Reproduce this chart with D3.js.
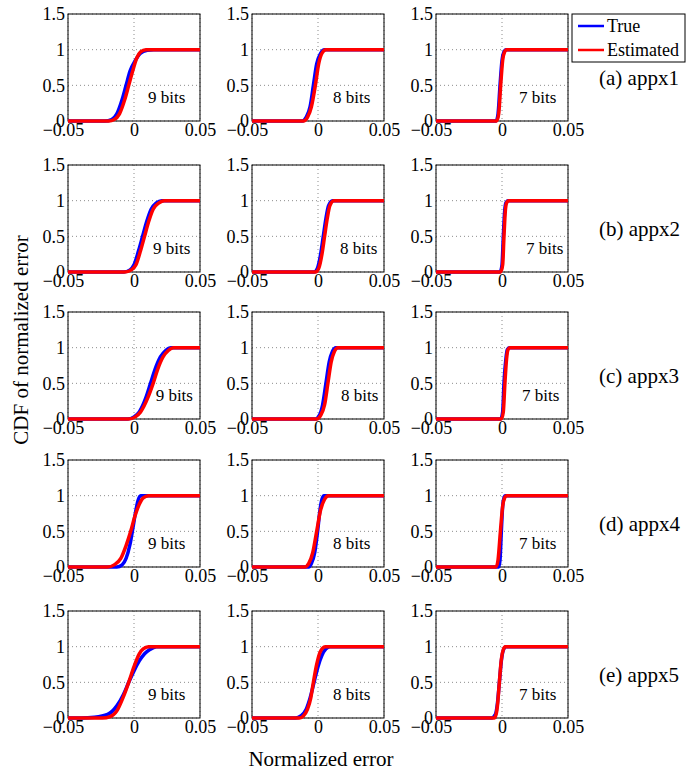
<!DOCTYPE html>
<meta charset="utf-8">
<style>
body { margin: 0; background: #fff; }
svg, svg text { font-family: "Liberation Serif", "Times New Roman", Times, "DejaVu Serif", serif; }
text { fill: #000; }
.grid line { stroke: #8c8c8c; stroke-width: 1; stroke-dasharray: 1,3; }
.box { fill: none; stroke: #000; stroke-width: 1; }
.true { fill: none; stroke: #0000ff; stroke-width: 3.5; }
.est { fill: none; stroke: #ff0000; stroke-width: 3.5; }
</style>
<svg width="696" height="772"></svg>
<script src="https://d3js.org/d3.v7.min.js"></script>
<script>

// panel rows / columns
var rowNames = ["(a) appx1", "(b) appx2", "(c) appx3", "(d) appx4", "(e) appx5"],
    bitNames = ["9 bits", "8 bits", "7 bits"],
    xTicks = [-0.05, 0, 0.05],
    yTicks = [0, 0.5, 1, 1.5];

// CDF curves: [normalized error, CDF], one list per column
var true_appx1 = [
  [[-0.05,0],[-0.022,0],[-0.017,0.02],[-0.013,0.1],[-0.009,0.3],[-0.006,0.5],[-0.003,0.7],[0.001,0.85],[0.005,0.95],[0.01,0.99],[0.015,1],[0.05,1]],
  [[-0.05,0],[-0.012,0],[-0.009,0.05],[-0.006,0.2],[-0.0035,0.5],[-0.001,0.8],[0.002,0.95],[0.005,1],[0.05,1]],
  [[-0.05,0],[-0.0045,0],[-0.003,0.1],[-0.0015,0.5],[0,0.85],[0.0015,0.97],[0.003,1],[0.05,1]]
];
var est_appx1 = [
  [[-0.05,0],[-0.019,0],[-0.015,0.02],[-0.011,0.1],[-0.007,0.3],[-0.004,0.5],[-0.001,0.7],[0.002,0.88],[0.005,0.97],[0.009,1],[0.05,1]],
  [[-0.05,0],[-0.011,0],[-0.008,0.05],[-0.005,0.2],[-0.002,0.5],[0.0005,0.8],[0.003,0.95],[0.006,1],[0.05,1]],
  [[-0.05,0],[-0.004,0],[-0.0025,0.1],[-0.001,0.5],[0.0005,0.85],[0.002,0.97],[0.0035,1],[0.05,1]]
];
var true_appx2 = [
  [[-0.05,0],[-0.008,0],[-0.003,0.03],[0,0.1],[0.0035,0.3],[0.0065,0.5],[0.0095,0.7],[0.013,0.88],[0.017,0.97],[0.021,1],[0.05,1]],
  [[-0.05,0],[-0.003,0],[-0.0005,0.05],[0.002,0.25],[0.004,0.5],[0.006,0.75],[0.008,0.93],[0.011,1],[0.05,1]],
  [[-0.05,0],[-0.0015,0],[0,0.1],[0.001,0.5],[0.002,0.85],[0.003,0.97],[0.0045,1],[0.05,1]]
];
var est_appx2 = [
  [[-0.05,0],[-0.007,0],[-0.002,0.03],[0.0015,0.1],[0.005,0.3],[0.008,0.5],[0.011,0.7],[0.0145,0.88],[0.019,0.97],[0.023,1],[0.05,1]],
  [[-0.05,0],[-0.002,0],[0.0005,0.05],[0.003,0.25],[0.005,0.5],[0.007,0.75],[0.009,0.93],[0.012,1],[0.05,1]],
  [[-0.05,0],[-0.001,0],[0.0005,0.1],[0.0015,0.5],[0.0025,0.85],[0.0035,0.97],[0.005,1],[0.05,1]]
];
var true_appx3 = [
  [[-0.05,0],[-0.005,0],[0,0.03],[0.004,0.1],[0.009,0.3],[0.0125,0.5],[0.016,0.7],[0.02,0.87],[0.024,0.96],[0.028,1],[0.05,1]],
  [[-0.05,0],[-0.002,0],[0.001,0.05],[0.0035,0.2],[0.006,0.5],[0.0085,0.8],[0.011,0.95],[0.0135,1],[0.05,1]],
  [[-0.05,0],[-0.001,0],[0.0005,0.1],[0.0015,0.5],[0.003,0.85],[0.004,0.97],[0.0055,1],[0.05,1]]
];
var est_appx3 = [
  [[-0.05,0],[-0.004,0],[0.001,0.03],[0.005,0.1],[0.0105,0.3],[0.0145,0.5],[0.018,0.7],[0.022,0.87],[0.026,0.96],[0.03,1],[0.05,1]],
  [[-0.05,0],[-0.001,0],[0.002,0.05],[0.005,0.2],[0.0075,0.5],[0.01,0.8],[0.0125,0.95],[0.015,1],[0.05,1]],
  [[-0.05,0],[-0.0005,0],[0.001,0.1],[0.0022,0.5],[0.0035,0.85],[0.0045,0.97],[0.006,1],[0.05,1]]
];
var true_appx4 = [
  [[-0.05,0],[-0.013,0],[-0.009,0.03],[-0.006,0.12],[-0.003,0.32],[-0.0008,0.55],[0.001,0.75],[0.003,0.93],[0.005,1],[0.05,1]],
  [[-0.05,0],[-0.007,0],[-0.005,0.05],[-0.0025,0.2],[-0.0003,0.5],[0.0015,0.8],[0.003,0.95],[0.0045,1],[0.05,1]],
  [[-0.05,0],[-0.0025,0],[-0.0015,0.1],[-0.0005,0.5],[0.0005,0.85],[0.0015,0.97],[0.0025,1],[0.05,1]]
];
var est_appx4 = [
  [[-0.05,0],[-0.02,0],[-0.015,0.03],[-0.01,0.12],[-0.006,0.3],[-0.0025,0.5],[0.0005,0.7],[0.004,0.88],[0.007,0.97],[0.011,1],[0.05,1]],
  [[-0.05,0],[-0.01,0],[-0.007,0.05],[-0.004,0.2],[-0.001,0.5],[0.002,0.8],[0.005,0.95],[0.008,1],[0.05,1]],
  [[-0.05,0],[-0.0045,0],[-0.003,0.1],[-0.0012,0.5],[0.0005,0.85],[0.002,0.97],[0.0035,1],[0.05,1]]
];
var true_appx5 = [
  [[-0.05,0],[-0.04,0],[-0.03,0.01],[-0.02,0.05],[-0.013,0.17],[-0.008,0.33],[-0.004,0.5],[0,0.66],[0.004,0.8],[0.008,0.9],[0.012,0.96],[0.017,1],[0.05,1]],
  [[-0.05,0],[-0.017,0],[-0.013,0.03],[-0.009,0.12],[-0.006,0.28],[-0.003,0.5],[0,0.72],[0.003,0.88],[0.006,0.97],[0.009,1],[0.05,1]],
  [[-0.05,0],[-0.008,0],[-0.005,0.05],[-0.0035,0.2],[-0.002,0.5],[-0.0005,0.8],[0.001,0.95],[0.003,1],[0.05,1]]
];
var est_appx5 = [
  [[-0.05,0],[-0.024,0],[-0.018,0.02],[-0.013,0.1],[-0.008,0.3],[-0.004,0.5],[0,0.72],[0.004,0.9],[0.007,0.97],[0.011,1],[0.05,1]],
  [[-0.05,0],[-0.014,0],[-0.011,0.03],[-0.008,0.12],[-0.0055,0.28],[-0.0035,0.5],[-0.001,0.75],[0.0015,0.92],[0.0035,0.98],[0.0055,1],[0.05,1]],
  [[-0.05,0],[-0.006,0],[-0.0045,0.05],[-0.0033,0.2],[-0.002,0.5],[-0.0005,0.82],[0.001,0.96],[0.0025,1],[0.05,1]]
];

var trueRows = [true_appx1, true_appx2, true_appx3, true_appx4, true_appx5],
    estRows = [est_appx1, est_appx2, est_appx3, est_appx4, est_appx5];

// layout
var svg = d3.select("svg"),
    W = 132, H = 107,
    colLeft = [68, 252, 436],
    rowTop = [14, 165, 312, 460, 611],
    bitsX = [[0.0106, 0.0114, 0.0129], [0.0144, 0.0167, 0.0182], [0.0164, 0.0174, 0.0152],
             [0.0106, 0.0114, 0.0129], [0.0106, 0.0114, 0.0129]];

var x = d3.scaleLinear().domain([-0.05, 0.05]).range([0, W]),
    y = d3.scaleLinear().domain([0, 1.5]).range([H, 0]);

var line = d3.line()
    .x(function(d) { return x(d[0]); })
    .y(function(d) { return y(d[1]); })
    .curve(d3.curveMonotoneX);

rowNames.forEach(function(name, r) {
  bitNames.forEach(function(bits, c) {
    var g = svg.append("g")
        .attr("transform", "translate(" + colLeft[c] + "," + rowTop[r] + ")");

    // dotted grid
    var grid = g.append("g").attr("class", "grid");
    grid.selectAll(".gx").data(xTicks).enter().append("line")
        .attr("x1", function(d) { return x(d); }).attr("x2", function(d) { return x(d); })
        .attr("y1", 0).attr("y2", H);
    grid.selectAll(".gy").data(yTicks).enter().append("line")
        .attr("x1", 0).attr("x2", W)
        .attr("y1", function(d) { return y(d); }).attr("y2", function(d) { return y(d); });

    g.append("rect").attr("class", "box").attr("width", W).attr("height", H);

    var ax = g.append("g")
        .attr("transform", "translate(0," + H + ")")
        .call(d3.axisBottom(x).tickValues(xTicks).tickSize(0).tickPadding(2).tickFormat(d3.format("")));
    ax.selectAll("text").attr("dx", function(d) { return d < 0 ? "-0.28em" : null; });

    var ay = g.append("g")
        .call(d3.axisLeft(y).tickValues(yTicks).tickSize(0).tickPadding(3).tickFormat(d3.format("")));

    [ax, ay].forEach(function(a) {
      a.attr("font-family", null).attr("font-size", 18);
      a.select(".domain").remove();
    });

    g.append("path").attr("class", "true").attr("d", line(trueRows[r][c]));
    g.append("path").attr("class", "est").attr("d", line(estRows[r][c]));

    g.append("text")
        .attr("x", x(bitsX[r][c]))
        .attr("y", y(0.34))
        .attr("dy", "0.35em")
        .style("font-size", "17px")
        .text(bits);
  });

  svg.append("text")
      .attr("x", 599)
      .attr("y", rowTop[r] + 64)
      .attr("dy", "0.35em")
      .style("font-size", "21px")
      .text(name);
});

// legend
var legend = svg.append("g");
legend.append("rect")
    .attr("x", 572).attr("y", 14).attr("width", 113).attr("height", 48)
    .attr("fill", "#fff").attr("stroke", "#000");
[["True", "true", 26], ["Estimated", "est", 50]].forEach(function(d) {
  legend.append("line").attr("class", d[1])
      .attr("x1", 578).attr("x2", 604).attr("y1", d[2]).attr("y2", d[2])
      .style("stroke-width", 2.5);
  legend.append("text")
      .attr("x", 607).attr("y", d[2]).attr("dy", "0.35em")
      .style("font-size", "18px")
      .text(d[0]);
});

// axis titles
svg.append("text")
    .attr("x", 321).attr("y", 766)
    .attr("text-anchor", "middle")
    .style("font-size", "21px")
    .text("Normalized error");

svg.append("text")
    .attr("transform", "translate(28,340) rotate(-90)")
    .attr("text-anchor", "middle")
    .style("font-size", "21px")
    .text("CDF of normalized error");

</script>
